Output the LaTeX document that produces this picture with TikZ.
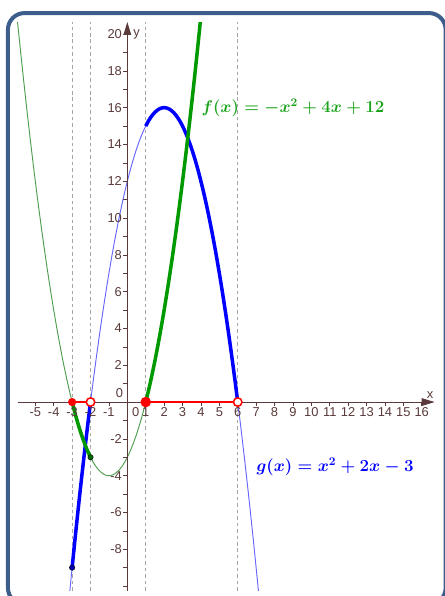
\documentclass[tikz,border=0pt]{standalone}
\usepackage{fontspec}
\setsansfont{Liberation Sans}
\usetikzlibrary{arrows.meta}
\definecolor{frameBlue}{HTML}{3D5D8A}
\definecolor{axisBrown}{HTML}{5A3A3A}
\definecolor{fGreen}{HTML}{009900}
\definecolor{fGreenThin}{HTML}{4E9E4E}
\definecolor{gBlue}{HTML}{0000FF}
\definecolor{ptRed}{HTML}{FF0000}

\begin{document}
\begin{tikzpicture}[
  x=0.552cm, y=0.552cm,
  frame/.style={draw=frameBlue, line width=3.4pt, rounded corners=0.5cm},
  axis/.style={draw=axisBrown, line width=0.7pt, -{Triangle[length=11pt, width=6.5pt]}},
  tickmark/.style={draw=axisBrown, line width=0.5pt},
  ticklab/.style={font=\sffamily\fontsize{11}{12}\selectfont, text=axisBrown, inner sep=1pt},
  guide/.style={draw=black!35, line width=0.6pt, dash pattern=on 3pt off 2.5pt},
  curvethin/.style={line width=0.8pt, smooth, samples=80},
  curvethick/.style={line width=3pt, smooth, samples=40},
  hitline/.style={draw=ptRed, line width=1.5pt},
  formula/.style={font=\fontsize{14}{16}\selectfont\boldmath, inner sep=0pt}
]
\useasboundingbox (-6.92,-10.54) rectangle (17.21,21.85);
\draw[frame] (-6.49,-11.0) rectangle (17.3,21.14);

% graphics view
\begin{scope}
  \clip (-6.3,-10.25) rectangle (16.95,20.65);
  \foreach \xv in {-3,-2,1,6}
    \draw[guide] (\xv,-10.25) -- (\xv,20.65);
  \draw[curvethin, fGreenThin, domain=-6.1:4.1] plot (\x,{\x*\x+2*\x-3});
  \draw[curvethin, gBlue!60, domain=-3.4:7.2] plot (\x,{-\x*\x+4*\x+12});
  \draw[curvethick, gBlue, domain=-3:-2] plot (\x,{-\x*\x+4*\x+12});
  \draw[curvethick, gBlue, domain=1:6] plot (\x,{-\x*\x+4*\x+12});
  \draw[curvethick, fGreen, domain=-3:-2] plot (\x,{\x*\x+2*\x-3});
  \draw[curvethick, fGreen, domain=1:4.0] plot (\x,{\x*\x+2*\x-3});
\end{scope}

% axes
\draw[axis] (-5.95,0) -- (16.7,0);
\draw[axis] (0,-10.25) -- (0,20.65);
\foreach \xv in {-5,...,-1,1,2,...,16} {
  \draw[tickmark] (\xv,0) -- (\xv,-0.22);
  \node[ticklab, anchor=north] (xl\xv) at (\xv,-0.22) {\xv};
}
\node[ticklab, anchor=north] (xl0) at (0.45,-0.22) {0};
\foreach \yv in {-10,...,-1,1,2,...,20}
  \draw[tickmark] (0,\yv) -- (-0.22,\yv);
\foreach \yv in {-8,-6,-4,-2,2,4,...,20}
  \node[ticklab, anchor=east] (yl\yv) at (-0.22,\yv) {\yv};
\node[ticklab, anchor=south east] (yl0) at (-0.15,0.15) {0};
\node[ticklab, anchor=west] (ylab) at (0.25,20.0) {y};
\node[ticklab, anchor=south] (xlab) at (16.45,0.12) {x};

% solution set on the x-axis
\draw[hitline] (-3,0) -- (-2,0);
\draw[hitline] (1,0) -- (6,0);

\coordinate (rootA) at (-3,0);
\coordinate (rootB) at (-2,0);
\coordinate (rootC) at (1,0);
\coordinate (rootD) at (6,0);
\coordinate (cutG) at (-2,-3);
\coordinate (cutF) at (-3,-9);
\fill[ptRed] (rootA) circle (3.5pt);
\fill[ptRed] (rootC) circle (4.5pt);
\draw[ptRed, line width=1.3pt, fill=white] (rootB) circle (3.6pt);
\draw[ptRed, line width=1.3pt, fill=white] (rootD) circle (3.6pt);
\draw[black, line width=0.4pt, fill=fGreen!70!black] (cutG) circle (2.3pt);
\draw[black, line width=0.4pt, fill=gBlue!70!black] (cutF) circle (2.3pt);

\node[formula, text=fGreen!90!white] (flab) at (9.0,15.98) {$f(x) = -x^2 + 4x + 12$};
\node[formula, text=gBlue] (glab) at (11.29,-3.53) {$g(x) = x^2 + 2x - 3$};
\end{tikzpicture}
\end{document}
